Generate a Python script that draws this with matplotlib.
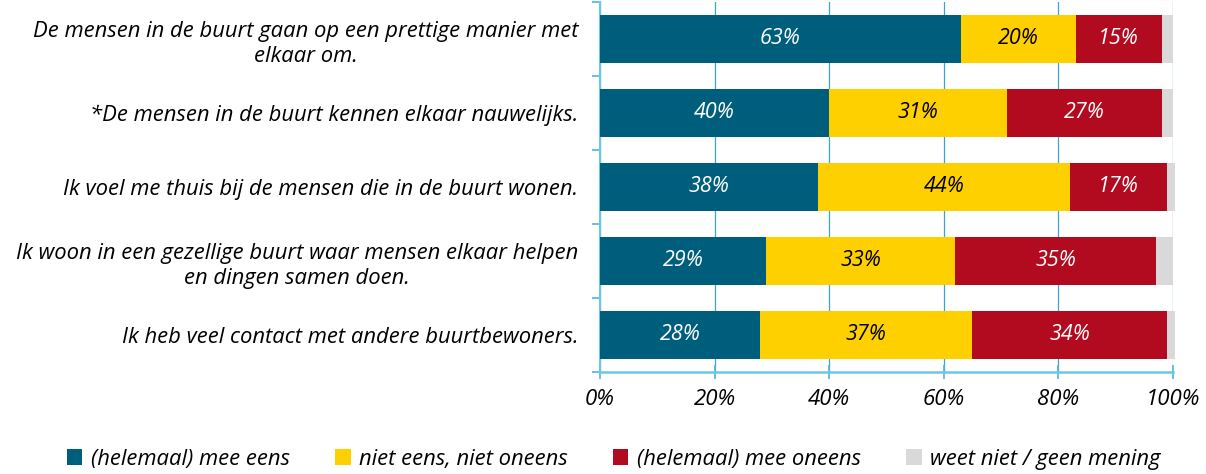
import matplotlib
matplotlib.use("Agg")
import matplotlib.pyplot as plt
from matplotlib.patches import Patch
import numpy as np

categories = [
    "De mensen in de buurt gaan op een prettige manier met\nelkaar om.",
    "*De mensen in de buurt kennen elkaar nauwelijks.",
    "Ik voel me thuis bij de mensen die in de buurt wonen.",
    "Ik woon in een gezellige buurt waar mensen elkaar helpen\nen dingen samen doen.",
    "Ik heb veel contact met andere buurtbewoners.",
]
eens = [63, 40, 38, 29, 28]
neutraal = [20, 31, 44, 33, 37]
oneens = [15, 27, 17, 35, 34]
weet_niet = [2, 2, 1.4, 3, 1.4]
series_names = ["(helemaal) mee eens", "niet eens, niet oneens",
                "(helemaal) mee oneens", "weet niet / geen mening"]
xticks = [0, 20, 40, 60, 80, 100]

colors = ["#005E7D", "#FFD000", "#B20A1F", "#D9D9D9"]
text_colors = ["white", "black", "white", None]

plt.rcParams['font.family'] = ['Open Sans', 'DejaVu Sans']

fig = plt.figure(figsize=(12.06, 4.74), dpi=100)
ax = fig.add_axes([600/1206, 1-372/474, 573/1206, 370/474])

y = np.arange(len(categories))
left = np.zeros(len(categories))
for vals, col, tc in zip([eens, neutraal, oneens, weet_niet], colors, text_colors):
    vals = np.array(vals, dtype=float)
    ax.barh(y, vals, left=left, color=col, height=0.65, zorder=3, clip_on=False)
    if tc is not None:
        for yi, l, v in zip(y, left, vals):
            ax.text(l + v/2, yi, f"{int(round(v))}%", ha="center", va="center",
                    color=tc, fontsize=15.5, style="italic", zorder=4)
    left += vals

ax.set_xlim(0, 100)
ax.set_ylim(len(categories) - 0.5, -0.5)
ax.set_xticks(xticks)
ax.set_xticklabels([f"{t}%" for t in xticks], fontsize=16, style="italic")
ax.set_yticks(y)
ax.set_yticklabels(categories, fontsize=15.8, style="italic", multialignment="center",
                   linespacing=1.3)
ax.set_yticks(np.arange(len(categories) + 1) - 0.5, minor=True)
ax.tick_params(axis="y", which="major", length=0, pad=15.5)
ax.tick_params(axis="y", which="minor", length=6, color="#4fb3e0", width=1.2)
ax.tick_params(axis="x", which="major", direction="inout", length=10,
               color="#4fb3e0", width=1.2, pad=7)

ax.xaxis.grid(True, color="#3aa3d6", linewidth=0.9, zorder=0)
ax.set_axisbelow(True)
for s in ["top", "right"]:
    ax.spines[s].set_visible(False)
ax.spines["left"].set_color("#6cc6e8")
ax.spines["left"].set_linewidth(1.5)
ax.spines["bottom"].set_color("#6cc6e8")
ax.spines["bottom"].set_linewidth(1.8)

handles = [Patch(facecolor=c, edgecolor="none") for c in colors]
fig.legend(handles, series_names, loc="center", bbox_to_anchor=(0.509, 1-459/474),
           ncol=4, frameon=False, prop={"size": 15.8, "style": "italic"},
           handlelength=0.7, handleheight=0.7, handletextpad=0.4, columnspacing=2.05)

fig.savefig("out.png", dpi=100)
